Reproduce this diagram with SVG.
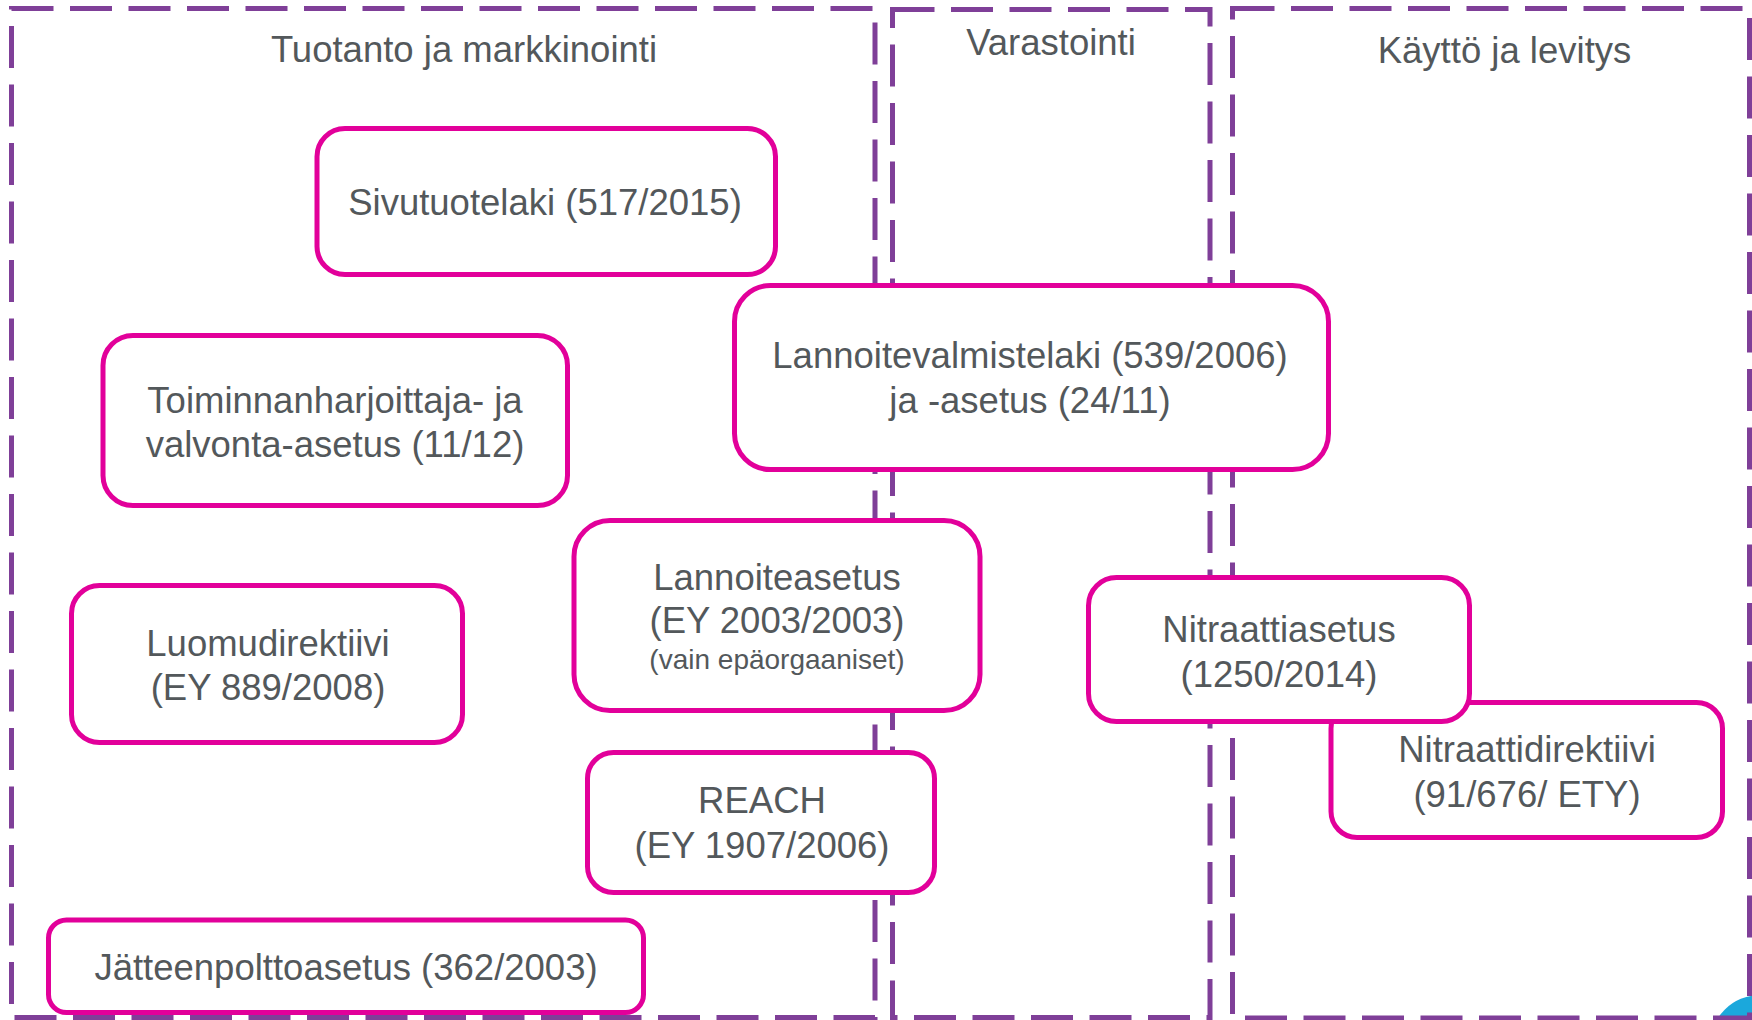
<svg xmlns="http://www.w3.org/2000/svg" width="1752" height="1020" viewBox="0 0 1752 1020">
<style>
.panel{fill:none;stroke:#7F3F98;stroke-width:5;stroke-dasharray:42 16.5}
.box{fill:#ffffff;stroke:#E2009A;stroke-width:5}
text{font-family:"Liberation Sans",Arial,sans-serif;font-size:36.5px;fill:#53585B;text-anchor:middle}
.small{font-size:28px}
</style>
<rect width="1752" height="1020" fill="#ffffff"/>
<circle cx="1760" cy="1045" r="50" fill="#1BA8DC"/>
<g id="panels">
<g id="panel-tuotanto">
<rect class="panel" x="11.5" y="8.5" width="863.5" height="1009"/>
<text x="464" y="62">Tuotanto ja markkinointi</text>
</g>
<g id="panel-varastointi">
<rect class="panel" x="892.5" y="9.5" width="317.5" height="1008"/>
<text x="1051" y="55">Varastointi</text>
</g>
<g id="panel-kaytto">
<rect class="panel" x="1232.5" y="8.5" width="517" height="1009.5"/>
<text x="1504.5" y="63">Käyttö ja levitys</text>
</g>
</g>
<g id="connectors"></g>
<g id="n-sivutuotelaki">
<rect class="box" x="317" y="128.5" width="458.5" height="146" rx="28"/>
<text x="545" y="215">Sivutuotelaki (517/2015)</text>
</g>
<g id="n-lannoitevalmistelaki">
<rect class="box" x="734.5" y="285.5" width="594" height="184" rx="36"/>
<text x="1030" y="368">Lannoitevalmistelaki (539/2006)</text>
<text x="1030" y="413">ja -asetus (24/11)</text>
</g>
<g id="n-toiminnanharjoittaja">
<rect class="box" x="103" y="335.5" width="464.5" height="170" rx="30"/>
<text x="335" y="413">Toiminnanharjoittaja- ja</text>
<text x="335" y="457">valvonta-asetus (11/12)</text>
</g>
<g id="n-lannoiteasetus">
<rect class="box" x="574" y="520.5" width="406" height="190" rx="36"/>
<text x="777" y="590">Lannoiteasetus</text>
<text x="777" y="633">(EY 2003/2003)</text>
<text class="small" x="777" y="669">(vain epäorgaaniset)</text>
</g>
<g id="n-luomudirektiivi">
<rect class="box" x="71.5" y="585.5" width="391" height="157" rx="28"/>
<text x="268" y="656">Luomudirektiivi</text>
<text x="268" y="700">(EY 889/2008)</text>
</g>
<g id="n-reach">
<rect class="box" x="587.5" y="752.5" width="347" height="140" rx="26"/>
<text x="762" y="813">REACH</text>
<text x="762" y="858">(EY 1907/2006)</text>
</g>
<g id="n-jatteenpolttoasetus">
<rect class="box" x="48.5" y="920" width="595" height="92.5" rx="18"/>
<text x="346" y="980">Jätteenpolttoasetus (362/2003)</text>
</g>
<g id="n-nitraattidirektiivi">
<rect class="box" x="1331" y="702.5" width="391.5" height="135" rx="26"/>
<text x="1527" y="762">Nitraattidirektiivi</text>
<text x="1527" y="807">(91/676/ ETY)</text>
</g>
<g id="n-nitraattiasetus">
<rect class="box" x="1088.5" y="577.5" width="381" height="144" rx="28"/>
<text x="1279" y="642">Nitraattiasetus</text>
<text x="1279" y="687">(1250/2014)</text>
</g>
</svg>
